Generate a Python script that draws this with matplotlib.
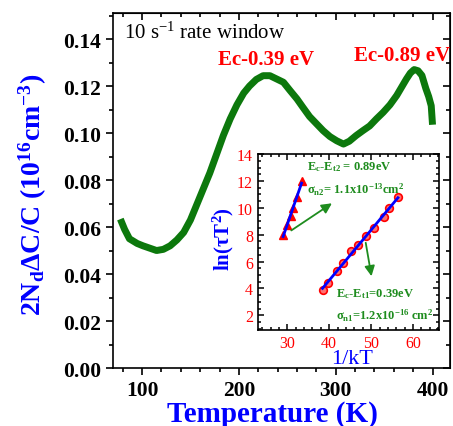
import numpy as np
import matplotlib
matplotlib.use('Agg')
import matplotlib.pyplot as plt
from matplotlib.ticker import MultipleLocator

plt.rcParams['font.family'] = ['Liberation Serif', 'DejaVu Serif']
plt.rcParams['mathtext.fontset'] = 'custom'
plt.rcParams['mathtext.rm'] = 'Liberation Serif'
plt.rcParams['mathtext.bf'] = 'Liberation Serif:bold'
plt.rcParams['mathtext.it'] = 'Liberation Serif:italic'

# DLTS spectrum
temp = [79, 82, 87, 95, 101, 108, 115, 122, 129, 136, 143, 150, 156, 163, 170,
        177, 184, 191, 198, 205, 211, 218, 225, 232, 239, 246, 253, 260, 266,
        273, 280, 287, 294, 301, 308, 314, 321, 328, 335, 342, 349, 356, 363,
        368, 373, 377, 381, 385, 389, 393, 396, 398.6, 399.7]
signal = [0.062, 0.059, 0.055, 0.053, 0.052, 0.051, 0.050, 0.0505, 0.052, 0.0545,
          0.0577, 0.063, 0.069, 0.076, 0.083, 0.091, 0.099, 0.106, 0.112, 0.117,
          0.120, 0.1228, 0.1244, 0.1244, 0.123, 0.1216, 0.118, 0.1145, 0.111,
          0.107, 0.104, 0.101, 0.0985, 0.0967, 0.0953, 0.0965, 0.0989, 0.101,
          0.103, 0.106, 0.1088, 0.112, 0.116, 0.1195, 0.123, 0.1255, 0.127,
          0.1265, 0.1245, 0.119, 0.1155, 0.1116, 0.105]

# Arrhenius points
kt_e2 = [29.0, 30.0, 30.8, 31.4, 32.4, 33.4]
ln_e2 = [8.0, 8.7, 9.4, 10.0, 10.8, 12.0]
kt_e1 = [38.4, 39.6, 41.8, 43.4, 45.2, 46.8, 48.8, 50.8, 53.0, 54.2, 56.4]
ln_e1 = [3.9, 4.4, 5.3, 5.9, 6.8, 7.2, 7.9, 8.5, 9.3, 10.0, 10.8]

fig = plt.figure(figsize=(4.53, 4.27), dpi=100)
ax = fig.add_axes([0.2494, 0.1358, 0.744, 0.831])

ax.plot(temp, signal, color='#0c780c', lw=5, solid_joinstyle='round')

ax.set_xlim(70, 418)
ax.set_ylim(0, 0.151)
ax.xaxis.set_major_locator(MultipleLocator(100))
ax.xaxis.set_minor_locator(MultipleLocator(20))
ax.yaxis.set_major_locator(MultipleLocator(0.02))
ax.yaxis.set_minor_locator(MultipleLocator(0.01))
ax.tick_params(which='both', direction='out', width=1.2, labelsize=15.5)
ax.tick_params(which='major', length=5)
ax.tick_params(which='minor', length=3)
for lab in ax.get_xticklabels() + ax.get_yticklabels():
    lab.set_fontweight('bold')
ax.yaxis.set_major_formatter(plt.FormatStrFormatter('%.2f'))
for s in ax.spines.values():
    s.set_linewidth(1.2)

# mirrored ticks pointing inward on top/right
top = ax.secondary_xaxis('top')
right = ax.secondary_yaxis('right')
for sec in (top, right):
    sec.tick_params(which='both', direction='in', width=1.2, labelbottom=False,
                    labeltop=False, labelleft=False, labelright=False)
    sec.tick_params(which='major', length=5)
    sec.tick_params(which='minor', length=3)
top.xaxis.set_major_locator(MultipleLocator(100))
top.xaxis.set_minor_locator(MultipleLocator(20))
right.yaxis.set_major_locator(MultipleLocator(0.02))
right.yaxis.set_minor_locator(MultipleLocator(0.01))

ax.set_xlabel('Temperature (K)', color='blue', fontsize=21, fontweight='bold')
ax.xaxis.set_label_coords(0.472, -0.09)
ax.set_ylabel(r'2N$_{\mathbf{d}}$ΔC/C (10$^{\mathbf{16}}$cm$^{\mathbf{-3}}$)',
              color='blue', fontsize=20, fontweight='bold')
ax.yaxis.set_label_coords(-0.19, 0.49)

ax.text(81, 0.143, r'10 s$^{-1}$ rate window', fontsize=15, va='center')
ax.text(228, 0.1315, 'Ec-0.39 eV', color='red', fontsize=15, fontweight='bold',
        ha='center', va='center')
ax.text(369, 0.133, 'Ec-0.89 eV', color='red', fontsize=15, fontweight='bold',
        ha='center', va='center', clip_on=False)

# inset
ins = fig.add_axes([0.5695, 0.2248, 0.3996, 0.412])
ins.plot(kt_e2, ln_e2, '^', color='red', ms=6, zorder=2)
ins.plot(kt_e1, ln_e1, 'o', mfc='#ff7070', mec='red', mew=1.2, ms=5.5, zorder=2)
for xs, ys in ((kt_e2, ln_e2), (kt_e1, ln_e1)):
    p = np.polyfit(xs, ys, 1)
    xf = np.array([min(xs), max(xs)])
    ins.plot(xf, np.polyval(p, xf), color='blue', lw=2, zorder=3)

ins.set_xlim(23, 66.2)
ins.set_ylim(0.9, 14)
ins.xaxis.set_major_locator(MultipleLocator(10))
ins.xaxis.set_minor_locator(MultipleLocator(2))
ins.yaxis.set_minor_locator(MultipleLocator(0.5))
ins.set_yticks([2, 4, 6, 8, 10, 12, 14])
ins.tick_params(which='both', direction='in', top=True, right=True, width=1.1,
                labelsize=11.5, labelcolor='red')
ins.tick_params(which='major', length=4)
ins.tick_params(which='minor', length=2.2)
for s in ins.spines.values():
    s.set_linewidth(1.2)

ins.set_ylabel(r'ln(τT$^{\mathbf{2}}$)', color='blue', fontsize=15, fontweight='bold')
ins.yaxis.set_label_coords(-0.12, 0.52)
ins.set_xlabel('1/kT', color='blue', fontsize=16)
ins.xaxis.set_label_coords(0.52, -0.11)

g = '#1e8c1e'
ins.annotate('', xy=(41.2, 10.45), xytext=(30.4, 8.2),
             arrowprops=dict(arrowstyle='-|>,head_length=0.6,head_width=0.3', color=g, lw=1.3))
ins.annotate('', xy=(50.2, 4.7), xytext=(48.6, 7.6),
             arrowprops=dict(arrowstyle='-|>,head_length=0.6,head_width=0.3', color=g, lw=1.3))
ins.text(34.8, 13.1, r'E$_{\mathbf{c}}$-E$_{\mathbf{t2}}$ = 0.89eV', color=g,
         fontsize=9, fontweight='bold', va='center')
ins.text(34.8, 11.4, r'σ$_{\mathbf{n2}}$= 1.1x10$^{\mathbf{-13}}$cm$^{\mathbf{2}}$', color=g,
         fontsize=9, fontweight='bold', va='center')
ins.text(41.6, 3.65, r'E$_{\mathbf{c}}$-E$_{\mathbf{t1}}$=0.39eV', color=g,
         fontsize=9, fontweight='bold', va='center')
ins.text(41.6, 2.03, r'σ$_{\mathbf{n1}}$=1.2x10$^{\mathbf{-16}}$ cm$^{\mathbf{2}}$', color=g,
         fontsize=9, fontweight='bold', va='center')

plt.savefig('out.png', dpi=100)
